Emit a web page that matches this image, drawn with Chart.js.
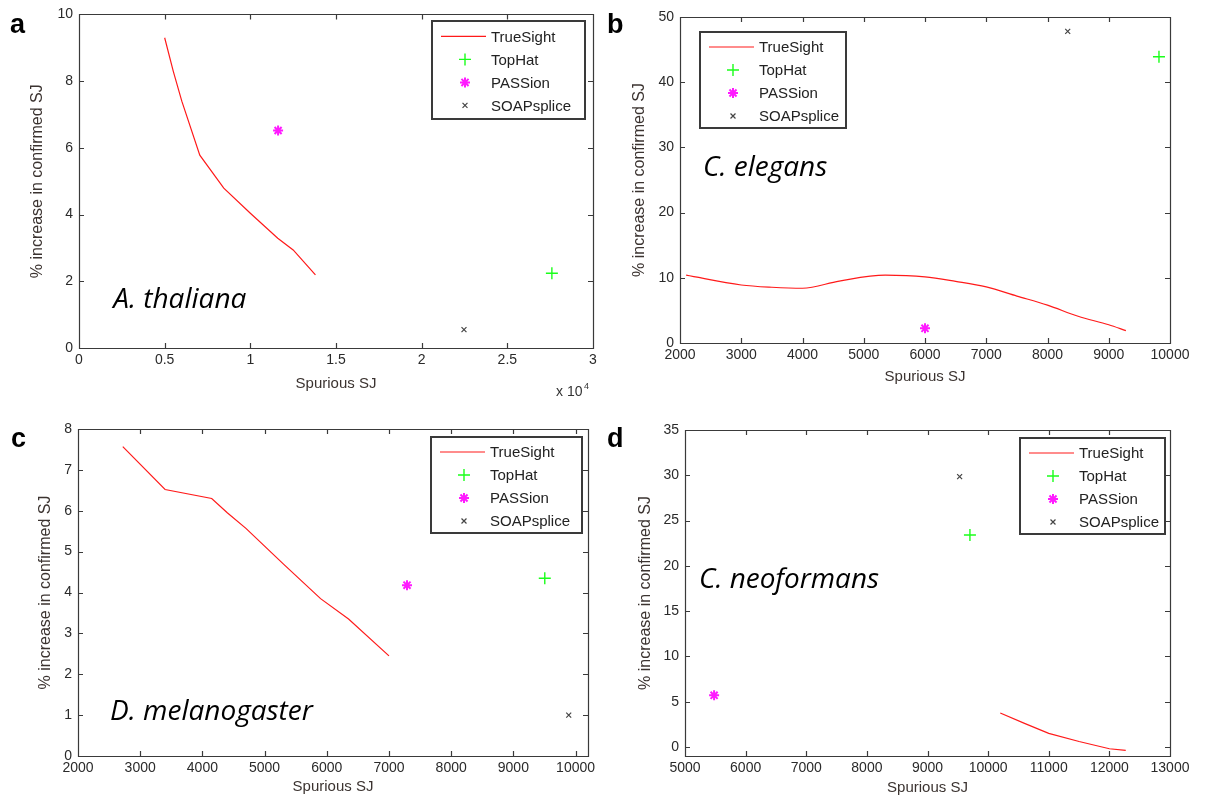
<!DOCTYPE html>
<html>
<head>
<meta charset="utf-8">
<script src="https://cdn.jsdelivr.net/npm/chart.js@4.4.1/dist/chart.umd.min.js"></script>
<style>
    body { margin: 0; background: #fff; }
    .panel { position: absolute; width: 606px; height: 399px; }
</style>
</head>
<body>
<div class="panel" style="left:0;top:0"><canvas id="chartA" width="606" height="399"></canvas></div>
<div class="panel" style="left:606px;top:0"><canvas id="chartB" width="606" height="399"></canvas></div>
<div class="panel" style="left:0;top:399px"><canvas id="chartC" width="606" height="399"></canvas></div>
<div class="panel" style="left:606px;top:399px"><canvas id="chartD" width="606" height="399"></canvas></div>

<script>
// species per panel
const speciesNames = ['A. thaliana', 'C. elegans', 'D. melanogaster', 'C. neoformans'];
const panelLetters = ['a', 'b', 'c', 'd'];

// TrueSight curves
const trueXA = [5000, 5500, 6000, 7050, 8450, 10000, 11600, 12500, 13800];
const trueYA = [9.3, 8.3, 7.4, 5.78, 4.79, 4.04, 3.29, 2.94, 2.19];
const trueXB = [2100, 3000, 3500, 4000, 4600, 5350, 6000, 6500, 7000, 7500, 8000, 8500, 9000, 9280];
const trueYB = [10.4, 8.9, 8.55, 8.4, 9.5, 10.4, 10.15, 9.45, 8.6, 7.2, 5.8, 4.1, 2.8, 1.9];
const trueXC = [2720, 3400, 4150, 4400, 4700, 5300, 5900, 6350, 7000];
const trueYC = [7.57, 6.52, 6.3, 5.95, 5.57, 4.7, 3.85, 3.35, 2.45];
const trueXD = [10200, 10600, 11000, 11500, 12000, 12270];
const trueYD = [3.75, 2.6, 1.5, 0.6, -0.2, -0.37];

// single points, one per panel (a, b, c, d)
const topHatX = [27600, 9820, 9505, 9700];
const topHatY = [2.24, 43.9, 4.35, 23.4];
const passionX = [11620, 6000, 7290, 5480];
const passionY = [6.52, 2.25, 4.18, 5.7];
const soapX = [22470, 8330, 9890, 9530];
const soapY = [0.55, 47.8, 1.0, 29.85];

// ticks
const xTicksA = [0, 5000, 10000, 15000, 20000, 25000, 30000];
const xTickLabelsA = ['0', '0.5', '1', '1.5', '2', '2.5', '3'];
const yTicksA = [0, 2, 4, 6, 8, 10];
const xTicksB = [2000, 3000, 4000, 5000, 6000, 7000, 8000, 9000, 10000];
const yTicksB = [0, 10, 20, 30, 40, 50];
const xTicksC = [2000, 3000, 4000, 5000, 6000, 7000, 8000, 9000, 10000];
const yTicksC = [0, 1, 2, 3, 4, 5, 6, 7, 8];
const xTicksD = [5000, 6000, 7000, 8000, 9000, 10000, 11000, 12000, 13000];
const yTicksD = [0, 5, 10, 15, 20, 25, 30, 35];

const FONT = '"Liberation Sans", Arial, sans-serif';
let charts = {};

function toPoints(xs, ys) {
    return xs.map((x, i) => ({ x: x, y: ys[i] }));
}

// box + inward ticks on all four sides, matlab style
const framePlugin = {
    id: 'frame',
    afterDatasetsDraw(chart) {
        const { ctx, chartArea: a, scales } = chart;
        ctx.save();
        ctx.strokeStyle = '#3a3a3a';
        ctx.lineWidth = 1.2;
        ctx.beginPath();
        ctx.rect(Math.round(a.left) + 0.5, Math.round(a.top) + 0.5, Math.round(a.width), Math.round(a.height));
        scales.x.ticks.forEach(t => {
            const px = Math.round(scales.x.getPixelForValue(t.value)) + 0.5;
            ctx.moveTo(px, a.bottom); ctx.lineTo(px, a.bottom - 5);
            ctx.moveTo(px, a.top); ctx.lineTo(px, a.top + 5);
        });
        scales.y.ticks.forEach(t => {
            const py = Math.round(scales.y.getPixelForValue(t.value)) + 0.5;
            ctx.moveTo(a.left, py); ctx.lineTo(a.left + 5, py);
            ctx.moveTo(a.right, py); ctx.lineTo(a.right - 5, py);
        });
        ctx.stroke();
        ctx.restore();
    }
};

// boxed legend inside the plot
const boxLegendPlugin = {
    id: 'boxLegend',
    afterDatasetsDraw(chart, args, opts) {
        const { ctx, chartArea: a } = chart;
        const w = opts.width, h = opts.height;
        const left = opts.corner === 'nw' ? a.left + opts.dx : a.right - opts.dx - w;
        const top = a.top + opts.dy;
        ctx.save();
        ctx.fillStyle = '#fff';
        ctx.fillRect(left, top, w, h);
        ctx.strokeStyle = '#3a3a3a';
        ctx.lineWidth = 2;
        ctx.strokeRect(Math.round(left), Math.round(top), w, h);
        ctx.font = '15px ' + FONT;
        ctx.textBaseline = 'middle';
        chart.data.datasets.forEach((ds, i) => {
            const y = top + 15 + i * 23;
            ctx.strokeStyle = ds.borderColor;
            ctx.lineWidth = ds.borderWidth;
            if (ds.showLine) {
                ctx.beginPath();
                ctx.moveTo(left + 9, y);
                ctx.lineTo(left + 54, y);
                ctx.stroke();
            } else {
                Chart.helpers.drawPoint(ctx, {
                    pointStyle: ds.pointStyle,
                    radius: ds.pointRadius,
                    borderWidth: ds.borderWidth,
                    rotation: 0
                }, left + 33, y);
            }
            ctx.fillStyle = '#222';
            ctx.fillText(ds.label, left + 59, y + 1);
        });
        ctx.restore();
    }
};

// panel letter, species name, exponent note
const annotPlugin = {
    id: 'annot',
    afterDraw(chart, args, opts) {
        const { ctx, scales, chartArea: a } = chart;
        ctx.save();
        ctx.fillStyle = '#000';
        ctx.font = 'bold 27px ' + FONT;
        ctx.textBaseline = 'alphabetic';
        ctx.fillText(opts.letter, opts.letterX, opts.letterY);

        ctx.font = 'italic 28px "Open Sans", sans-serif';
        ctx.textBaseline = 'middle';
        ctx.fillText(opts.species, scales.x.getPixelForValue(opts.speciesX),
            scales.y.getPixelForValue(opts.speciesY), opts.speciesW);

        if (opts.exponent) {
            ctx.fillStyle = '#333';
            ctx.font = '14px ' + FONT;
            ctx.textBaseline = 'alphabetic';
            ctx.fillText('x 10', a.right - 37, a.bottom + 48);
            ctx.font = '9px ' + FONT;
            ctx.fillText('4', a.right - 9, a.bottom + 41);
        }
        ctx.restore();
    }
};

function createPanel(canvasId, p) {
    const ctx = document.getElementById(canvasId).getContext('2d');
    const i = p.index;

    return new Chart(ctx, {
        type: 'scatter',
        data: {
            datasets: [
                {
                    label: 'TrueSight',
                    data: toPoints(p.trueX, p.trueY),
                    showLine: true,
                    borderColor: '#ff1a1a',
                    borderWidth: 1.2,
                    pointRadius: 0,
                    tension: p.smooth ? 0.4 : 0,
                    cubicInterpolationMode: p.smooth ? 'monotone' : 'default'
                },
                {
                    label: 'TopHat',
                    data: [{ x: topHatX[i], y: topHatY[i] }],
                    pointStyle: 'cross',
                    pointRadius: 6,
                    borderColor: '#1aff1a',
                    borderWidth: 1.4
                },
                {
                    label: 'PASSion',
                    data: [{ x: passionX[i], y: passionY[i] }],
                    pointStyle: 'star',
                    pointRadius: 5,
                    borderColor: '#ff1aff',
                    borderWidth: 2
                },
                {
                    label: 'SOAPsplice',
                    data: [{ x: soapX[i], y: soapY[i] }],
                    pointStyle: 'crossRot',
                    pointRadius: 3.5,
                    borderColor: '#444',
                    borderWidth: 1.2
                }
            ]
        },
        options: {
            responsive: false,
            animation: false,
            devicePixelRatio: 1,
            layout: {
                padding: { top: p.padTop, right: p.padRight, left: 0, bottom: 0 }
            },
            plugins: {
                legend: { display: false },
                tooltip: { enabled: false },
                boxLegend: p.legend,
                annot: {
                    letter: panelLetters[i],
                    letterX: p.letterX,
                    letterY: p.letterY,
                    species: speciesNames[i],
                    speciesX: p.speciesX,
                    speciesY: p.speciesY,
                    speciesW: p.speciesW,
                    exponent: p.exponent
                }
            },
            scales: {
                x: {
                    type: 'linear',
                    min: p.xMin,
                    max: p.xMax,
                    afterBuildTicks: s => { s.ticks = p.xTicks.map(v => ({ value: v })); },
                    afterFit: s => { s.height = p.xAxisH; },
                    grid: { display: false, drawTicks: false },
                    border: { display: false },
                    ticks: {
                        padding: 4,
                        maxRotation: 0,
                        color: '#2a2a2a',
                        font: { family: FONT, size: 14 },
                        callback: (v, idx) => p.xLabels ? p.xLabels[idx] : String(v)
                    },
                    title: {
                        display: true,
                        text: 'Spurious SJ',
                        color: '#3b3330',
                        font: { family: FONT, size: 15 },
                        padding: { top: 0, bottom: p.xTitlePad }
                    }
                },
                y: {
                    type: 'linear',
                    min: p.yMin,
                    max: p.yMax,
                    afterBuildTicks: s => { s.ticks = p.yTicks.map(v => ({ value: v })); },
                    afterFit: s => { s.width = p.yAxisW; },
                    grid: { display: false, drawTicks: false },
                    border: { display: false },
                    ticks: {
                        padding: 6,
                        color: '#2a2a2a',
                        font: { family: FONT, size: 14 },
                        callback: v => String(v)
                    },
                    title: {
                        display: true,
                        text: '% increase in confirmed SJ',
                        color: '#3b3330',
                        font: { family: FONT, size: 16 },
                        padding: { top: p.yTitlePad, bottom: 0 }
                    }
                }
            }
        },
        plugins: [framePlugin, boxLegendPlugin, annotPlugin]
    });
}

document.addEventListener('DOMContentLoaded', function () {
    charts.a = createPanel('chartA', {
        index: 0, trueX: trueXA, trueY: trueYA, smooth: false,
        xMin: 0, xMax: 30000, yMin: 0, yMax: 10,
        xTicks: xTicksA, xLabels: xTickLabelsA, yTicks: yTicksA,
        padTop: 14, padRight: 13, yAxisW: 79, xAxisH: 51,
        xTitlePad: 6, yTitlePad: 28,
        legend: { corner: 'ne', dx: 8, dy: 7, width: 153, height: 98 },
        letterX: 10, letterY: 33,
        speciesX: 2000, speciesY: 1.44, speciesW: 137,
        exponent: true
    });

    charts.b = createPanel('chartB', {
        index: 1, trueX: trueXB, trueY: trueYB, smooth: true,
        xMin: 2000, xMax: 10000, yMin: 0, yMax: 50,
        xTicks: xTicksB, yTicks: yTicksB,
        padTop: 17, padRight: 42, yAxisW: 74, xAxisH: 56,
        xTitlePad: 13, yTitlePad: 24,
        legend: { corner: 'nw', dx: 20, dy: 15, width: 146, height: 96 },
        letterX: 1, letterY: 33,
        speciesX: 2375, speciesY: 26.8, speciesW: 126,
        exponent: false
    });

    charts.c = createPanel('chartC', {
        index: 2, trueX: trueXC, trueY: trueYC, smooth: false,
        xMin: 2000, xMax: 10200, yMin: 0, yMax: 8,
        xTicks: xTicksC, yTicks: yTicksC,
        padTop: 30, padRight: 18, yAxisW: 78, xAxisH: 42,
        xTitlePad: 2, yTitlePad: 36,
        legend: { corner: 'ne', dx: 6, dy: 8, width: 151, height: 96 },
        letterX: 11, letterY: 48,
        speciesX: 2515, speciesY: 1.08, speciesW: 207,
        exponent: false
    });

    charts.d = createPanel('chartD', {
        index: 3, trueX: trueXD, trueY: trueYD, smooth: false,
        xMin: 5000, xMax: 13000, yMin: -1, yMax: 35,
        xTicks: xTicksD, yTicks: yTicksD,
        padTop: 31, padRight: 42, yAxisW: 79, xAxisH: 42,
        xTitlePad: 1, yTitlePad: 30,
        legend: { corner: 'ne', dx: 5, dy: 8, width: 145, height: 96 },
        letterX: 1, letterY: 48,
        speciesX: 5231, speciesY: 18.4, speciesW: 180,
        exponent: false
    });
});
</script>
</body>
</html>
